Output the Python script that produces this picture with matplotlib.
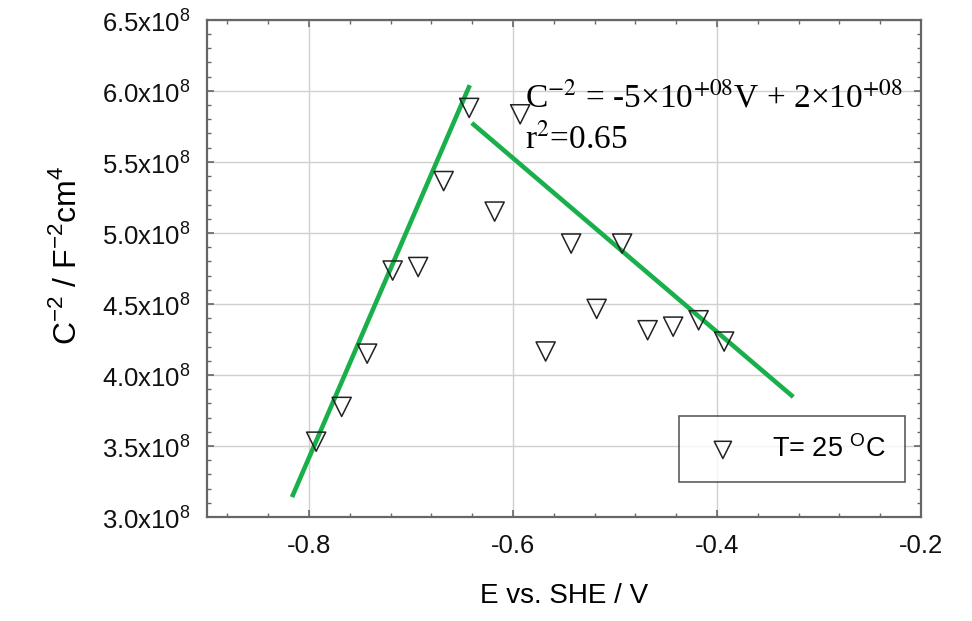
import matplotlib
matplotlib.use("Agg")
import matplotlib.pyplot as plt
from matplotlib.ticker import MultipleLocator, FuncFormatter

# Data
potential_V = [-0.793, -0.768, -0.743, -0.718, -0.693, -0.668, -0.643, -0.618, -0.593,
               -0.568, -0.543, -0.518, -0.493, -0.468, -0.443, -0.418, -0.393]
inv_cap_sq = [3.53e8, 3.775e8, 4.15e8, 4.735e8, 4.76e8, 5.365e8, 5.88e8, 5.15e8, 5.835e8,
              4.165e8, 4.925e8, 4.465e8, 4.925e8, 4.315e8, 4.34e8, 4.385e8, 4.235e8]
fit1_x = [-0.8167, -0.6424]
fit1_y = [3.14e8, 6.04e8]
fit2_x = [-0.6404, -0.3252]
fit2_y = [5.774e8, 3.845e8]
x_ticks = [-0.8, -0.6, -0.4, -0.2]
y_ticks = [3.0e8, 3.5e8, 4.0e8, 4.5e8, 5.0e8, 5.5e8, 6.0e8, 6.5e8]
legend_label = r"T= 25 $^{\mathrm{O}}$C"

plt.rcParams['font.family'] = ['Liberation Sans', 'DejaVu Sans']
plt.rcParams['mathtext.fontset'] = 'custom'
plt.rcParams['mathtext.rm'] = 'Liberation Sans'

fig = plt.figure(figsize=(9.72, 6.21), dpi=100)
ax = fig.add_axes([0.213, 0.1675, 0.7345, 0.8005])

green = '#19b04b'
ax.plot(fit1_x, fit1_y, color=green, lw=3.3, solid_capstyle='butt', zorder=2)
ax.plot(fit2_x, fit2_y, color=green, lw=3.3, solid_capstyle='butt', zorder=2)
ax.scatter(potential_V, inv_cap_sq, marker='v', s=190, facecolors='none',
           edgecolors='#222222', linewidths=1.1, zorder=3, label=legend_label)

ax.set_xlim(-0.9, -0.2)
ax.set_ylim(3.0e8, 6.5e8)
ax.set_xticks(x_ticks)
ax.set_yticks(y_ticks)
ax.xaxis.set_minor_locator(MultipleLocator(0.04))
ax.yaxis.set_minor_locator(MultipleLocator(0.1e8))
ax.xaxis.set_major_formatter(FuncFormatter(lambda v, p: f"{v:.1f}"))
ax.yaxis.set_major_formatter(FuncFormatter(lambda v, p: f"{v/1e8:.1f}x10$^{{8}}$"))
ax.grid(True, which='major', color='#d0d0d0', lw=1.0)
ax.set_axisbelow(True)

ax.tick_params(which='both', direction='in', top=True, right=True, colors='#666666',
               labelcolor='#111111', labelsize=18.5)
ax.tick_params(which='major', length=5, width=1.2)
ax.tick_params(which='minor', length=3, width=1.0)
ax.tick_params(axis='x', pad=12)
ax.tick_params(axis='y', pad=12)
for s in ax.spines.values():
    s.set_color('#666666')
    s.set_linewidth(1.6)

ax.set_xlabel("E vs. SHE / V", fontsize=20, labelpad=18)
ax.set_ylabel(r"C$^{\mathrm{-2}}$ / F$^{\mathrm{-2}}$cm$^{\mathrm{4}}$", fontsize=23)
ax.yaxis.set_label_coords(-0.174, 0.527)

ax.text(0.446, 0.825, r"C$^{-2}$ = -5×10$^{+08}$V + 2×10$^{+08}$", transform=ax.transAxes,
        fontsize=24, family='Liberation Serif', math_fontfamily='stix', va='baseline')
ax.text(0.446, 0.742, r"r$^{2}$=0.65", transform=ax.transAxes,
        fontsize=24, family='Liberation Serif', math_fontfamily='stix', va='baseline')

leg = ax.legend(loc='lower right', bbox_to_anchor=(0.9775, 0.0704), fontsize=19.5, frameon=True,
                fancybox=False, edgecolor='#333333', borderpad=0.7, handlelength=1.85,
                handletextpad=0.89, borderaxespad=0, markerscale=0.9)
leg.get_frame().set_linewidth(1.2)

fig.savefig("out.png", dpi=100)
